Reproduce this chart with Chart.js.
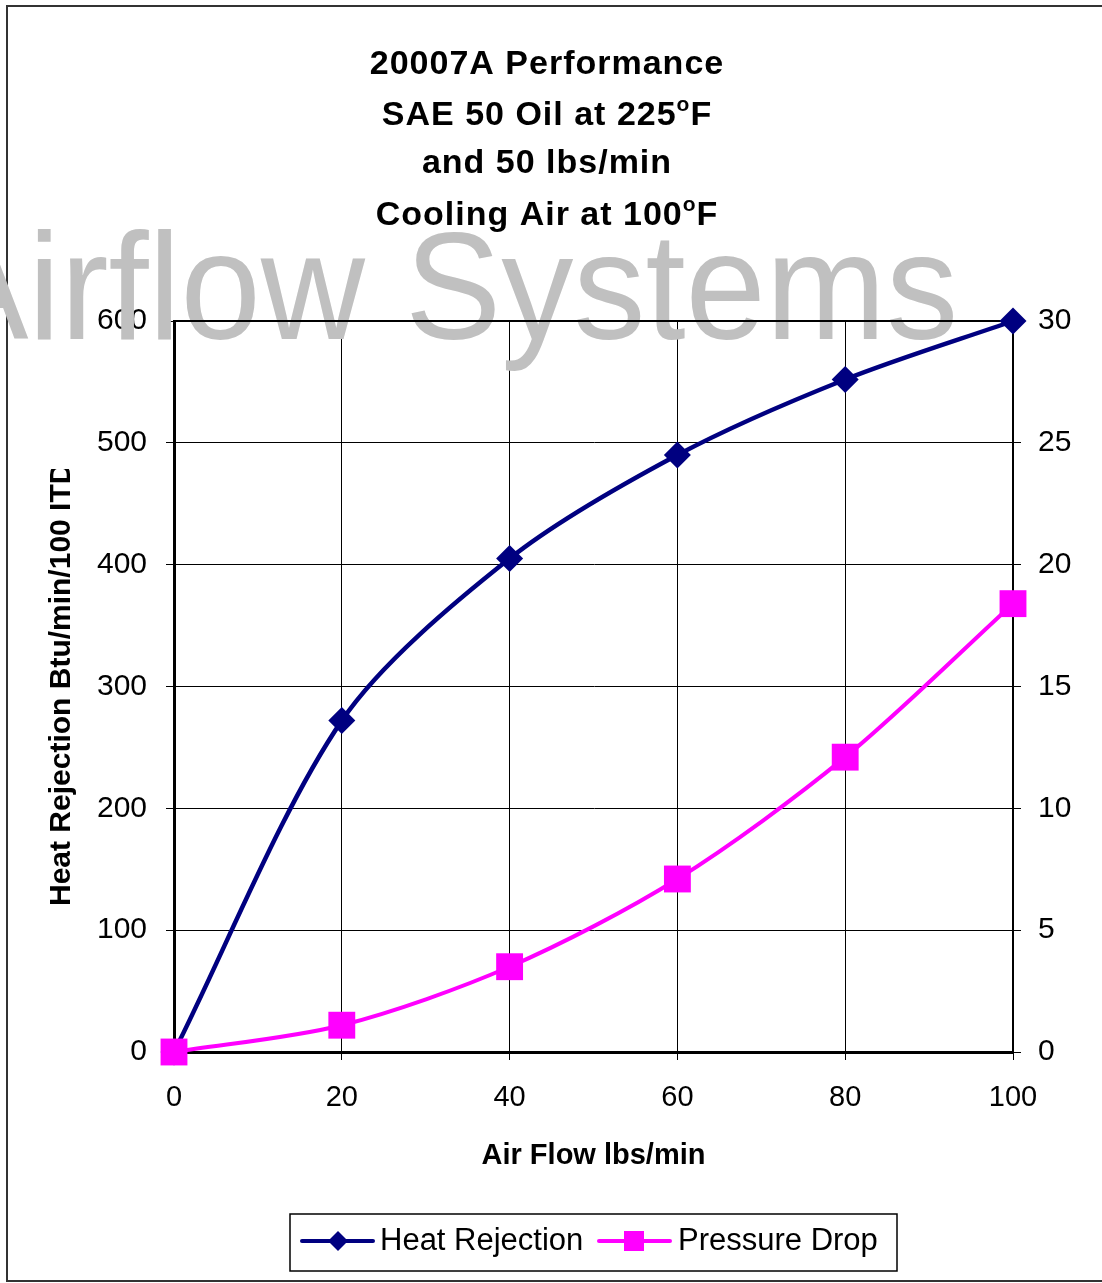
<!DOCTYPE html>
<html>
<head>
<meta charset="utf-8">
<script src="https://cdn.jsdelivr.net/npm/chart.js@4.4.0/dist/chart.umd.min.js"></script>
<style>
  html, body { margin: 0; padding: 0; background: #fff; }
  #wrap { width: 1102px; height: 1283px; }
</style>
</head>
<body>
<div id="wrap"><canvas id="chart" width="1102" height="1283"></canvas></div>
<script>
// Data
const airFlow = [0, 20, 40, 60, 80, 100];
const heatRejection = [0, 272, 405, 490, 552, 600];
const pressureDrop = [0, 1.1, 3.5, 7.1, 12.1, 18.4];
const xTicks = [0, 20, 40, 60, 80, 100];

// title lines: [main text, superscript, tail]
const titleLines = [
    ['20007A Performance', '', ''],
    ['SAE 50 Oil at 225', 'o', 'F'],
    ['and 50 lbs/min', '', ''],
    ['Cooling Air at 100', 'o', 'F']
];
const xTitle = 'Air Flow lbs/min';
const yTitle = 'Heat Rejection Btu/min/100 ITD';
const watermark = 'Airflow Systems';
const seriesNames = ['Heat Rejection', 'Pressure Drop'];
const seriesColors = ['#000080', '#FF00FF'];

const FONT = "'Liberation Sans', Arial, sans-serif";

// draw a title line with a superscript degree sign
function drawTitleLine(ctx, parts, cx, baseline) {
    const [main, sup, tail] = parts;
    ctx.save();
    ctx.letterSpacing = '1px';
    ctx.font = `bold 34px ${FONT}`;
    const wMain = ctx.measureText(main).width;
    const wTail = tail ? ctx.measureText(tail).width : 0;
    ctx.font = `bold 21px ${FONT}`;
    const wSup = sup ? ctx.measureText(sup).width : 0;
    let x = cx - (wMain + wSup + wTail) / 2;
    ctx.fillStyle = '#000';
    ctx.textAlign = 'left';
    ctx.textBaseline = 'alphabetic';
    ctx.font = `bold 34px ${FONT}`;
    ctx.fillText(main, x, baseline);
    x += wMain;
    if (sup) {
        ctx.font = `bold 21px ${FONT}`;
        ctx.fillText(sup, x, baseline - 14);
        x += wSup;
        ctx.font = `bold 34px ${FONT}`;
        ctx.fillText(tail, x, baseline);
    }
    ctx.restore();
}

const decorPlugin = {
    id: 'decor',
    beforeDraw(chart) {
        const ctx = chart.ctx;
        ctx.save();
        ctx.fillStyle = '#fff';
        ctx.fillRect(0, 0, chart.width, chart.height);
        // outer frame
        ctx.strokeStyle = '#333';
        ctx.lineWidth = 2;
        ctx.strokeRect(7, 6, 1100, 1275);
        ctx.restore();

        [74, 125, 173, 225].forEach((b, i) => drawTitleLine(ctx, titleLines[i], 547, b));

        // x axis title
        const area = chart.chartArea;
        ctx.save();
        ctx.fillStyle = '#000';
        ctx.font = `bold 29px ${FONT}`;
        ctx.textAlign = 'center';
        ctx.textBaseline = 'middle';
        ctx.fillText(xTitle, (area.left + area.right) / 2, 1156);
        ctx.restore();

        // y axis title (clipped at the top like the original)
        ctx.save();
        ctx.beginPath();
        ctx.rect(0, 469, 120, 600);
        ctx.clip();
        ctx.translate(62, 906);
        ctx.rotate(-Math.PI / 2);
        ctx.fillStyle = '#000';
        ctx.font = `bold 30px ${FONT}`;
        ctx.textAlign = 'left';
        ctx.textBaseline = 'middle';
        ctx.fillText(yTitle, 0, 0);
        ctx.restore();
    },
    beforeDatasetsDraw(chart) {
        const ctx = chart.ctx;
        const area = chart.chartArea;
        // watermark
        ctx.save();
        ctx.font = `152px ${FONT}`;
        const wSys = ctx.measureText('Systems').width;
        const sx = 553 / wSys;
        ctx.translate(958, 339);
        ctx.scale(sx, 1);
        ctx.fillStyle = '#C0C0C0';
        ctx.textAlign = 'right';
        ctx.textBaseline = 'alphabetic';
        ctx.fillText(watermark, 0, 0);
        ctx.restore();
        // top frame line of plot area
        ctx.save();
        ctx.strokeStyle = '#000';
        ctx.lineWidth = 2;
        ctx.beginPath();
        ctx.moveTo(area.left, area.top);
        ctx.lineTo(area.right, area.top);
        ctx.stroke();
        ctx.restore();
    },
    afterDraw(chart) {
        const ctx = chart.ctx;
        ctx.save();
        // legend box
        ctx.strokeStyle = '#000';
        ctx.lineWidth = 1.5;
        ctx.strokeRect(290, 1214, 607, 57);
        const cy = 1241;
        // heat rejection entry
        ctx.strokeStyle = seriesColors[0];
        ctx.lineWidth = 4;
        ctx.lineCap = 'round';
        ctx.beginPath();
        ctx.moveTo(302, cy);
        ctx.lineTo(373, cy);
        ctx.stroke();
        ctx.fillStyle = seriesColors[0];
        ctx.beginPath();
        ctx.moveTo(338, cy - 10);
        ctx.lineTo(348, cy);
        ctx.lineTo(338, cy + 10);
        ctx.lineTo(328, cy);
        ctx.closePath();
        ctx.fill();
        // pressure drop entry
        ctx.strokeStyle = seriesColors[1];
        ctx.beginPath();
        ctx.moveTo(599, cy);
        ctx.lineTo(670, cy);
        ctx.stroke();
        ctx.fillStyle = seriesColors[1];
        ctx.fillRect(624, cy - 10, 20, 20);
        // texts
        ctx.fillStyle = '#000';
        ctx.font = `31px ${FONT}`;
        ctx.textAlign = 'left';
        ctx.textBaseline = 'middle';
        ctx.fillText(seriesNames[0], 380, cy);
        ctx.fillText(seriesNames[1], 678, cy);
        ctx.restore();
    }
};

const tickFont = { family: FONT, size: 30 };

new Chart(document.getElementById('chart'), {
    type: 'line',
    data: {
        datasets: [{
            label: seriesNames[0],
            data: airFlow.map((x, i) => ({ x: x, y: heatRejection[i] })),
            yAxisID: 'y',
            borderColor: seriesColors[0],
            backgroundColor: seriesColors[0],
            borderWidth: 4.5,
            pointStyle: 'rectRot',
            pointRadius: 13.5,
            pointBorderWidth: 0,
            tension: 0.3,
            clip: false,
            order: 2
        }, {
            label: seriesNames[1],
            data: airFlow.map((x, i) => ({ x: x, y: pressureDrop[i] })),
            yAxisID: 'y2',
            borderColor: seriesColors[1],
            backgroundColor: seriesColors[1],
            borderWidth: 4,
            pointStyle: 'rect',
            pointRadius: 19,
            pointBorderWidth: 0,
            tension: 0.3,
            clip: false,
            order: 1
        }]
    },
    options: {
        responsive: false,
        animation: false,
        devicePixelRatio: 1,
        layout: { padding: { top: 321, left: 0, right: 0, bottom: 0 } },
        plugins: {
            legend: { display: false },
            tooltip: { enabled: false }
        },
        scales: {
            x: {
                type: 'linear',
                min: 0,
                max: 100,
                afterBuildTicks: s => { s.ticks = xTicks.map(v => ({ value: v })); },
                afterFit: s => { s.height = 231; },
                ticks: { font: { family: FONT, size: 29 }, color: '#000', padding: 21, maxRotation: 0 },
                grid: { color: '#000', lineWidth: 1, tickLength: 8 },
                border: { color: '#000', width: 3 }
            },
            y: {
                position: 'left',
                min: 0,
                max: 600,
                afterFit: s => { s.width = 174; },
                ticks: { stepSize: 100, font: tickFont, color: '#000', padding: 19 },
                grid: { color: '#000', lineWidth: 1, tickLength: 8 },
                border: { color: '#000', width: 3 }
            },
            y2: {
                position: 'right',
                min: 0,
                max: 30,
                afterFit: s => { s.width = 89; },
                ticks: { stepSize: 5, font: tickFont, color: '#000', padding: 17 },
                grid: { drawOnChartArea: false, color: '#000', lineWidth: 1, tickLength: 8 },
                border: { color: '#000', width: 2 }
            }
        }
    },
    plugins: [decorPlugin]
});
</script>
</body>
</html>
